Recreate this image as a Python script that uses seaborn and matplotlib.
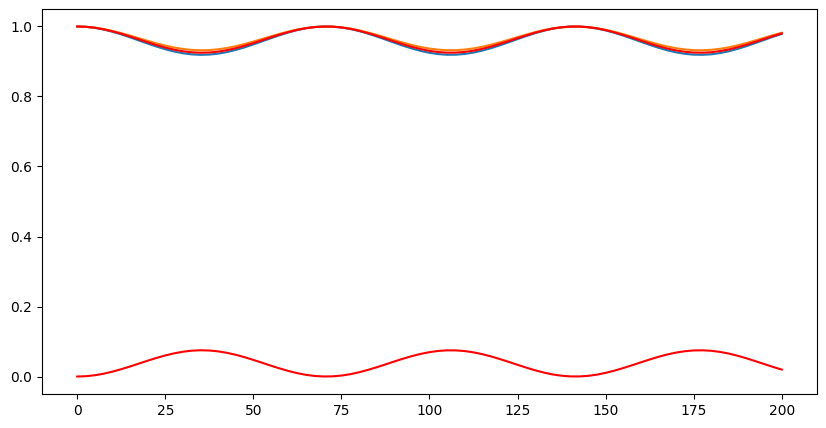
import matplotlib
matplotlib.use("Agg")
from matplotlib import pyplot as plt
import seaborn as sns
import pandas as pd

# x positions (every 2.5 units)
t = [i * 2.5 for i in range(81)]

pop_blue = [1.0000, 0.9990, 0.9961, 0.9913, 0.9850, 0.9775, 0.9690, 0.9601, 0.9512, 0.9427,
            0.9350, 0.9285, 0.9235, 0.9203, 0.9190, 0.9197, 0.9224, 0.9269, 0.9330, 0.9403,
            0.9487, 0.9576, 0.9666, 0.9752, 0.9830, 0.9897, 0.9950, 0.9984, 0.9999, 0.9995,
            0.9971, 0.9929, 0.9870, 0.9797, 0.9715, 0.9627, 0.9537, 0.9450, 0.9371, 0.9302,
            0.9248, 0.9211, 0.9192, 0.9194, 0.9215, 0.9255, 0.9311, 0.9381, 0.9462, 0.9549,
            0.9640, 0.9726, 0.9809, 0.9879, 0.9937, 0.9976, 0.9997, 0.9998, 0.9980, 0.9942,
            0.9888, 0.9819, 0.9739, 0.9652, 0.9562, 0.9475, 0.9392, 0.9320, 0.9261, 0.9219,
            0.9195, 0.9191, 0.9206, 0.9241, 0.9293, 0.9361, 0.9439, 0.9526, 0.9615, 0.9705,
            0.9787]

pop_orange = [1.0000, 0.9992, 0.9967, 0.9927, 0.9874, 0.9811, 0.9740, 0.9665, 0.9590, 0.9519,
              0.9454, 0.9400, 0.9358, 0.9331, 0.9320, 0.9326, 0.9348, 0.9386, 0.9437, 0.9499,
              0.9570, 0.9644, 0.9720, 0.9792, 0.9857, 0.9914, 0.9958, 0.9986, 0.9999, 0.9996,
              0.9976, 0.9940, 0.9891, 0.9830, 0.9761, 0.9687, 0.9611, 0.9539, 0.9472, 0.9414,
              0.9369, 0.9338, 0.9322, 0.9323, 0.9341, 0.9374, 0.9422, 0.9481, 0.9549, 0.9621,
              0.9698, 0.9770, 0.9840, 0.9899, 0.9947, 0.9980, 0.9997, 0.9998, 0.9983, 0.9952,
              0.9906, 0.9848, 0.9781, 0.9708, 0.9633, 0.9559, 0.9489, 0.9429, 0.9380, 0.9344,
              0.9324, 0.9321, 0.9334, 0.9363, 0.9406, 0.9463, 0.9529, 0.9602, 0.9677, 0.9752,
              0.9821]

pop_low = [0.0000, 0.0009, 0.0036, 0.0080, 0.0139, 0.0209, 0.0287, 0.0369, 0.0452, 0.0531,
           0.0602, 0.0662, 0.0708, 0.0738, 0.0750, 0.0743, 0.0719, 0.0677, 0.0621, 0.0552,
           0.0475, 0.0393, 0.0309, 0.0230, 0.0157, 0.0095, 0.0047, 0.0015, 0.0001, 0.0005,
           0.0027, 0.0066, 0.0121, 0.0188, 0.0264, 0.0345, 0.0429, 0.0509, 0.0583, 0.0646,
           0.0696, 0.0731, 0.0748, 0.0746, 0.0727, 0.0690, 0.0638, 0.0573, 0.0498, 0.0418,
           0.0334, 0.0253, 0.0177, 0.0112, 0.0058, 0.0023, 0.0003, 0.0002, 0.0019, 0.0053,
           0.0104, 0.0168, 0.0242, 0.0322, 0.0405, 0.0487, 0.0563, 0.0630, 0.0684, 0.0723,
           0.0745, 0.0749, 0.0735, 0.0702, 0.0655, 0.0592, 0.0520, 0.0439, 0.0357, 0.0274,
           0.0198]

pop_high = [1.0 - v for v in pop_low]

df = pd.DataFrame({"t": t, "blue": pop_blue, "orange": pop_orange,
                   "high": pop_high, "low": pop_low})

fig = plt.figure(figsize=(8.26, 4.28), dpi=100)
ax = fig.add_axes([0.0508, 0.0794, 0.9383, 0.8996])

sns.lineplot(data=df, x="t", y="blue", color="#1f77b4", linewidth=1.5, ax=ax)
sns.lineplot(data=df, x="t", y="orange", color="#ff7f0e", linewidth=1.5, ax=ax)
sns.lineplot(data=df, x="t", y="high", color="red", linewidth=1.5, ax=ax)
sns.lineplot(data=df, x="t", y="low", color="red", linewidth=1.5, ax=ax)

ax.set_xlabel("")
ax.set_ylabel("")
ax.set_xticks([0, 25, 50, 75, 100, 125, 150, 175, 200])
ax.set_yticks([0.0, 0.2, 0.4, 0.6, 0.8, 1.0])

fig.savefig("out.png", dpi=100)
plt.close(fig)
